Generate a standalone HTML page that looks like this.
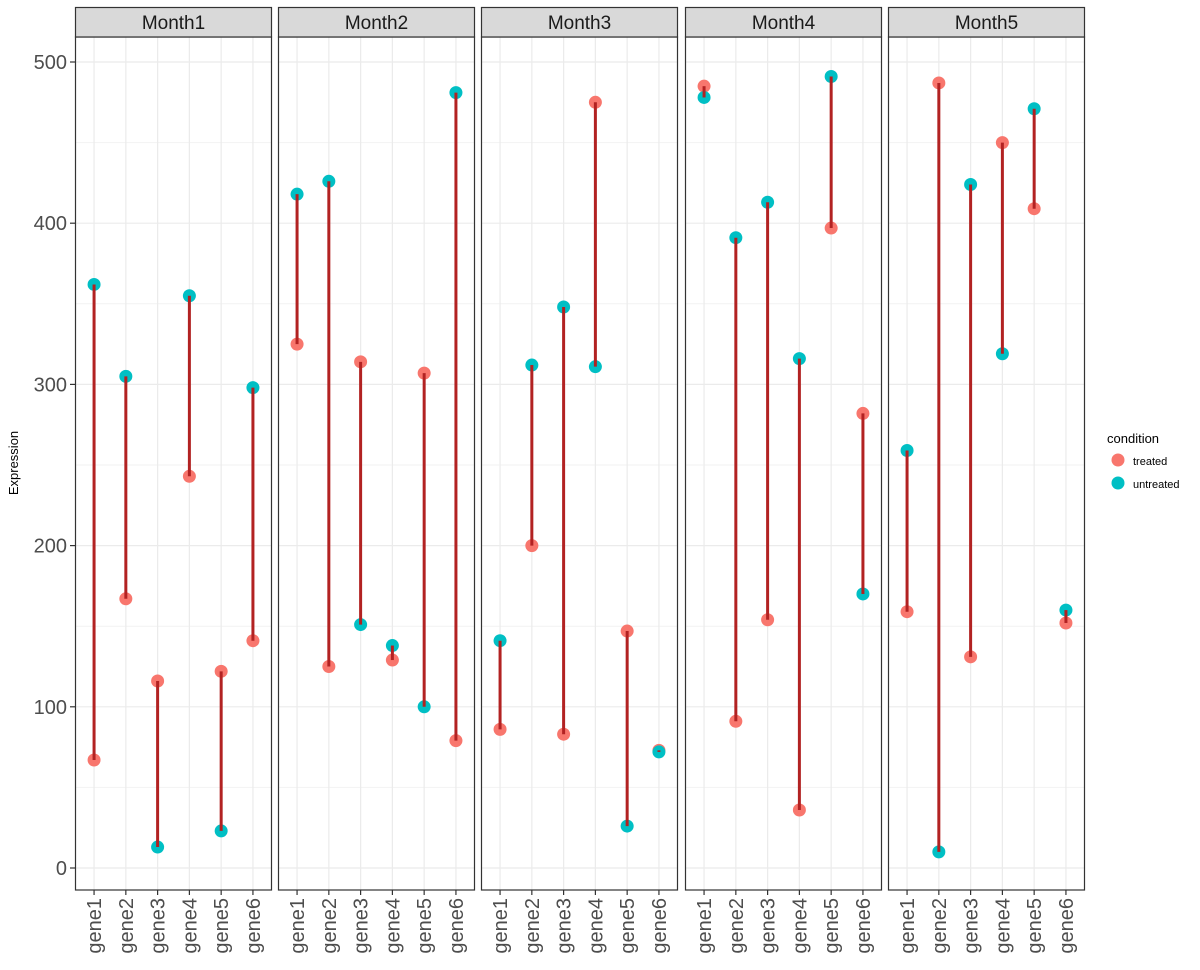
<!DOCTYPE html>
<html><head><meta charset="utf-8"><style>
html,body{margin:0;padding:0;background:#fff;}
svg{display:block;font-family:"Liberation Sans",sans-serif;}
</style></head><body>
<svg id="c" width="1200" height="970" xmlns="http://www.w3.org/2000/svg"></svg>
<script>
const months = ["Month1","Month2","Month3","Month4","Month5"];
const genes = ["gene1","gene2","gene3","gene4","gene5","gene6"];
const treated = [
  [67,167,116,243,122,141],
  [325,125,314,129,307,79],
  [86,200,83,475,147,73],
  [485,91,154,36,397,282],
  [159,487,131,450,409,152]
];
const untreated = [
  [362,305,13,355,23,298],
  [418,426,151,138,100,481],
  [141,312,348,311,26,72],
  [478,391,413,316,491,170],
  [259,10,424,319,471,160]
];
const yTicks = [0,100,200,300,400,500];

const NS="http://www.w3.org/2000/svg";
const svg=document.getElementById('c');
function mk(tag,attrs,parent){const e=document.createElementNS(NS,tag);for(const k in attrs)e.setAttribute(k,attrs[k]);(parent||svg).appendChild(e);return e;}
const panelL=[75,278,481,685,888], panelW=197, plotTop=37, plotBottom=890;
const yS=v=>868-(v)*(868-62)/500;
const xS=(p,i)=>panelL[p]+(i+0.6)*panelW/6.2;

months.forEach((m,p)=>{
  const g=mk('g',{});
  
  
  mk('rect',{x:panelL[p],y:plotTop,width:panelW,height:plotBottom-plotTop,fill:'#fff'},g);
  for(let v=50;v<=500;v+=100){mk('line',{x1:panelL[p],x2:panelL[p]+panelW,y1:yS(v),y2:yS(v),stroke:'#f2f2f2','stroke-width':1},g);}
  yTicks.forEach(v=>mk('line',{x1:panelL[p],x2:panelL[p]+panelW,y1:yS(v),y2:yS(v),stroke:'#ebebeb','stroke-width':1.2},g));
  genes.forEach((gn,i)=>mk('line',{x1:xS(p,i),x2:xS(p,i),y1:plotTop,y2:plotBottom,stroke:'#ebebeb','stroke-width':1.2},g));
  genes.forEach((gn,i)=>{
    const t=mk('circle',{cx:xS(p,i),cy:yS(treated[p][i]),r:6.5,fill:'#F8766D'},g);
    
    
    const u=mk('circle',{cx:xS(p,i),cy:yS(untreated[p][i]),r:6.5,fill:'#00BFC4'},g);
    
    
    const s=mk('line',{x1:xS(p,i),x2:xS(p,i),y1:yS(treated[p][i]),y2:yS(untreated[p][i]),stroke:'#B22222','stroke-width':3},g);
    
    
  });
  mk('rect',{x:panelL[p]+0.5,y:plotTop,width:panelW-1,height:plotBottom-plotTop,fill:'none',stroke:'#333','stroke-width':1.2},g);
  const st=mk('rect',{x:panelL[p]+0.5,y:7.5,width:panelW-1,height:29.5,fill:'#d9d9d9',stroke:'#333','stroke-width':1.2},g);
  
  
  const tt=mk('text',{x:panelL[p]+panelW/2,y:29,'text-anchor':'middle','font-size':19,fill:'#1a1a1a'},g);
  tt.textContent=m;
  
  
  genes.forEach((gn,i)=>{
    mk('line',{x1:xS(p,i),x2:xS(p,i),y1:plotBottom,y2:plotBottom+5,stroke:'#333','stroke-width':1.2},g);
    const lb=mk('text',{x:0,y:0,transform:`translate(${xS(p,i)+7},${plotBottom+8}) rotate(-90)`,'text-anchor':'end','font-size':20,fill:'#4d4d4d'},g);
    lb.textContent=gn;
    
    
  });
});
yTicks.forEach(v=>{
  mk('line',{x1:70,x2:75,y1:yS(v),y2:yS(v),stroke:'#333','stroke-width':1.2});
  const t=mk('text',{x:67,y:yS(v)+7,'text-anchor':'end','font-size':20,fill:'#4d4d4d'});
  t.textContent=v;
  
  
});
const yt=mk('text',{x:0,y:0,transform:'translate(18,463) rotate(-90)','text-anchor':'middle','font-size':13,fill:'#000'});
yt.textContent='Expression';


const lg=mk('g',{});


const lt=mk('text',{x:1107,y:443,'font-size':13,fill:'#000'},lg);lt.textContent='condition';
mk('circle',{cx:1118,cy:460,r:6.5,fill:'#F8766D'},lg);
const l1=mk('text',{x:1133,y:465,'font-size':11,fill:'#000'},lg);l1.textContent='treated';
mk('circle',{cx:1118,cy:483,r:6.5,fill:'#00BFC4'},lg);
const l2=mk('text',{x:1133,y:488,'font-size':11,fill:'#000'},lg);l2.textContent='untreated';
</script>
</body></html>
